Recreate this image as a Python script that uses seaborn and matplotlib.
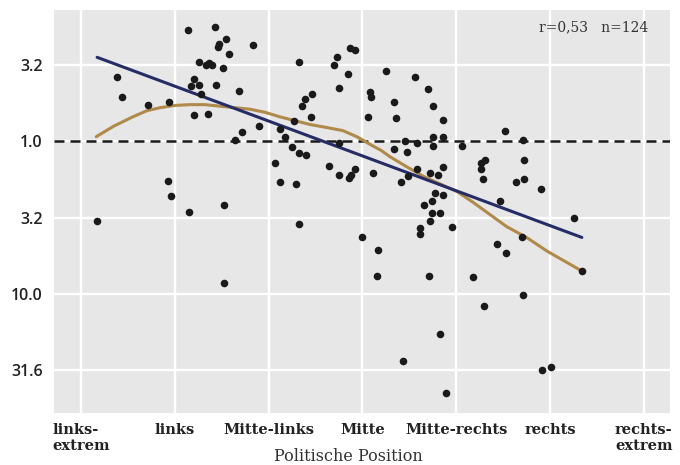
import numpy as np
import pandas as pd
import matplotlib
matplotlib.use("Agg")
import matplotlib.pyplot as plt
import seaborn as sns

# categories on the x axis (position 0..6)
positions = ['links-\nextrem', 'links', 'Mitte-links', 'Mitte',
             'Mitte-rechts', 'rechts', 'rechts-\nextrem']

# y ticks are on a log10 scale, labels show the ratio (both directions)
ytick_vals = [0.5, 0.0, -0.5, -1.0, -1.5]
ytick_labels = ['3.2', '1.0', '3.2', '10.0', '31.6']

# scatter points (x = political position, y = log10 ratio)
pos_x = [0.17, 0.38, 0.43, 0.71, 0.94, 0.93, 0.96, 1.15, 1.14, 1.43,
         1.54, 1.47, 1.46, 1.58, 1.83, 1.26, 1.33, 1.36, 1.40, 1.51,
         1.20, 1.17, 1.26, 1.44, 1.28, 1.68, 1.20, 1.35, 1.90, 1.72,
         1.64, 1.52, 1.52, 2.32, 2.70, 2.73, 2.87, 2.92, 2.85, 3.25,
         2.75, 3.08, 3.09, 2.46, 2.39, 2.35, 2.45, 3.06, 2.27, 2.12,
         2.17, 2.75, 2.25, 2.32, 2.40, 2.07, 2.64, 2.75, 2.92, 2.88,
         2.86, 3.11, 2.12, 2.29, 2.32, 3.56, 3.70, 3.34, 3.75, 3.36,
         3.86, 3.75, 3.86, 3.45, 3.58, 3.75, 4.06, 3.34, 3.48, 3.86,
         3.58, 3.72, 3.81, 3.49, 3.41, 3.77, 3.86, 3.74, 3.66, 3.74,
         3.83, 3.72, 3.96, 3.61, 3.61, 3.00, 3.17, 3.16, 3.71, 3.83,
         3.43, 3.89, 4.52, 4.71, 4.72, 4.31, 4.26, 4.26, 4.29, 4.64,
         4.72, 4.90, 4.47, 5.26, 4.70, 4.43, 4.53, 5.34, 4.18, 4.71,
         4.30, 4.91, 5.01]
log_ratio = [-0.52, 0.42, 0.29, 0.24, 0.26, -0.26, -0.36, -0.46, 0.73, 0.75,
             0.67, 0.64, 0.62, 0.57, 0.63, 0.52, 0.50, 0.51, 0.50, 0.48,
             0.41, 0.36, 0.37, 0.37, 0.31, 0.33, 0.17, 0.18, 0.10, 0.06,
             0.01, -0.42, -0.93, 0.52, 0.50, 0.55, 0.61, 0.60, 0.44, 0.46,
             0.35, 0.32, 0.29, 0.31, 0.28, 0.23, 0.16, 0.16, 0.13, 0.08,
             0.03, -0.01, -0.04, -0.08, -0.09, -0.14, -0.16, -0.22, -0.18, -0.22,
             -0.24, -0.21, -0.27, -0.28, -0.54, 0.42, 0.34, 0.26, 0.23, 0.15,
             0.14, 0.03, 0.03, 0.00, -0.01, -0.03, -0.03, -0.05, -0.07, -0.17,
             -0.18, -0.21, -0.22, -0.23, -0.27, -0.34, -0.35, -0.39, -0.42, -0.47,
             -0.47, -0.52, -0.56, -0.57, -0.61, -0.63, -0.71, -0.88, -0.88, -1.26,
             -1.44, -1.65, 0.07, 0.01, -0.12, -0.12, -0.14, -0.18, -0.25, -0.27,
             -0.25, -0.31, -0.39, -0.50, -0.63, -0.67, -0.73, -0.85, -0.89, -1.01,
             -1.08, -1.50, -1.48]

# linear fit (end points) and loess curve
reg_x = [0.17, 5.34]
reg_y = [0.55, -0.63]
loess_x = [0.16, 0.35, 0.55, 0.70, 0.84, 1.00, 1.16, 1.32, 1.48, 1.64,
           1.80, 1.96, 2.12, 2.28, 2.44, 2.62, 2.79, 2.94, 3.08, 3.20,
           3.29, 3.48, 3.65, 3.83, 4.01, 4.18, 4.36, 4.54, 4.75, 4.97,
           5.34]
loess_y = [0.03, 0.10, 0.16, 0.20, 0.22, 0.235, 0.24, 0.24, 0.23, 0.22,
           0.21, 0.19, 0.16, 0.135, 0.11, 0.09, 0.07, 0.03, -0.02, -0.06,
           -0.10, -0.17, -0.23, -0.28, -0.33, -0.40, -0.48, -0.56, -0.63, -0.72,
           -0.85]

df = pd.DataFrame({'x': pos_x, 'y': log_ratio})
df_reg = pd.DataFrame({'x': reg_x, 'y': reg_y})
df_loess = pd.DataFrame({'x': loess_x, 'y': loess_y})

sns.set_theme(style='darkgrid', rc={
    'axes.facecolor': '#e7e7e7',
    'grid.color': 'white',
    'grid.linewidth': 1.7,
})

fig = plt.figure(figsize=(6.8, 4.65), dpi=100)
ax = fig.add_axes([54 / 680, 52 / 465, 616 / 680, 403 / 465])

# dashed reference line at ratio 1
ax.axhline(0, color='#1a1a1a', linestyle=(0, (4, 2.4)), linewidth=1.8, zorder=2)

sns.lineplot(data=df_loess, x='x', y='y', color='#b08a4a', linewidth=2.2,
             sort=False, ax=ax, zorder=3)
sns.lineplot(data=df_reg, x='x', y='y', color='#262c66', linewidth=2.2,
             sort=False, ax=ax, zorder=4)
sns.scatterplot(data=df, x='x', y='y', color='#1a1a1a', s=30, linewidth=0,
                ax=ax, zorder=5)

ax.set_xlim(-0.29, 6.28)
ax.set_ylim(-1.78, 0.86)

ax.set_xticks(range(len(positions)))
ax.set_xticklabels(positions, fontsize=10.5, fontweight='bold',
                   family='DejaVu Serif', color='#222222')
for lbl in ax.get_xticklabels():
    lbl.set_multialignment('left')
    lbl.set_verticalalignment('top')

ax.set_yticks(ytick_vals)
ax.set_yticklabels(ytick_labels, fontsize=11.5, fontweight='semibold',
                   family='Open Sans', color='#222222')

ax.tick_params(axis='x', length=0, pad=7)
ax.tick_params(axis='y', length=0, pad=8)

ax.set_xlabel('Politische Position', fontsize=11.5, family='DejaVu Serif',
              color='#333333')
ax.xaxis.set_label_coords((348 - 54) / 616, -0.088)
ax.set_ylabel('')

for side in ax.spines.values():
    side.set_visible(False)

ax.text(0.964, 0.958, 'r=0,53   n=124', transform=ax.transAxes,
        ha='right', va='center', fontsize=10, family='DejaVu Serif',
        color='#333333')

fig.savefig('out.png', dpi=100)
